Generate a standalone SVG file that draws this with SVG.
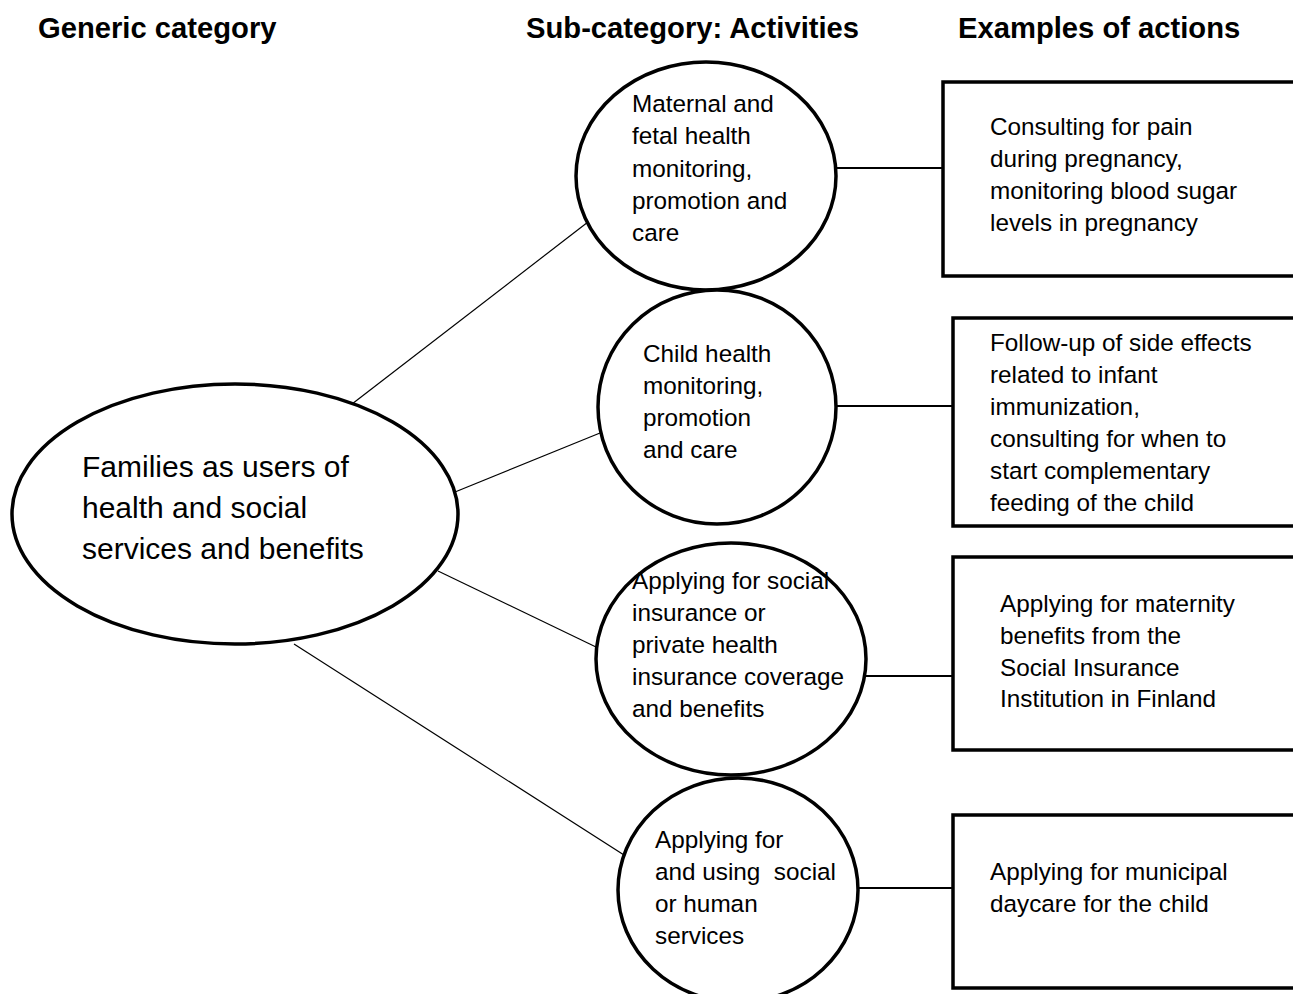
<svg xmlns="http://www.w3.org/2000/svg" width="1293" height="994" viewBox="0 0 1293 994">
<style>
.hdr{font-family:"Liberation Sans",Arial,sans-serif;font-weight:bold;font-size:29.2px;fill:#000}
.t{font-family:"Liberation Sans",Arial,sans-serif;font-size:24.3px;fill:#000}
.big{font-family:"Liberation Sans",Arial,sans-serif;font-size:30px;fill:#000}
.shape{fill:#fff;stroke:#000;stroke-width:3.5}
.thin{stroke:#000;stroke-width:1.2;fill:none}
.mid{stroke:#000;stroke-width:2;fill:none}
</style>
<rect width="1293" height="994" fill="#fff"/>
<g id="headers">
<text class="hdr" x="38" y="38">Generic category</text>
<text class="hdr" x="526" y="38">Sub-category: Activities</text>
<text class="hdr" x="958" y="38">Examples of actions</text>
</g>
<g id="connectors">
<line class="thin" x1="352" y1="404" x2="588" y2="222"/>
<line class="thin" x1="455" y1="492" x2="600" y2="433"/>
<line class="thin" x1="438" y1="571" x2="596" y2="647"/>
<line class="thin" x1="294" y1="644" x2="624" y2="855"/>
<line class="mid" x1="836" y1="168" x2="943" y2="168"/>
<line class="mid" x1="836" y1="406" x2="953" y2="406"/>
<line class="mid" x1="866" y1="676" x2="953" y2="676"/>
<line class="mid" x1="858" y1="888" x2="953" y2="888"/>
</g>
<g id="main">
<ellipse class="shape" cx="235" cy="514" rx="223" ry="130"/>
<text class="big" x="82" y="477">Families as users of</text>
<text class="big" x="82" y="518">health and social</text>
<text class="big" x="82" y="559">services and benefits</text>
</g>
<g id="sub1">
<ellipse class="shape" cx="706" cy="176" rx="130" ry="114"/>
<text class="t" x="632" y="112">Maternal and</text>
<text class="t" x="632" y="144">fetal health</text>
<text class="t" x="632" y="177">monitoring,</text>
<text class="t" x="632" y="209">promotion and</text>
<text class="t" x="632" y="241">care</text>
</g>
<g id="sub2">
<ellipse class="shape" cx="717" cy="407" rx="119" ry="117"/>
<text class="t" x="643" y="362">Child health</text>
<text class="t" x="643" y="394">monitoring,</text>
<text class="t" x="643" y="426">promotion</text>
<text class="t" x="643" y="458">and care</text>
</g>
<g id="sub3">
<ellipse class="shape" cx="731" cy="659" rx="135" ry="116"/>
<text class="t" x="632" y="589">Applying for social</text>
<text class="t" x="632" y="621">insurance or</text>
<text class="t" x="632" y="653">private health</text>
<text class="t" x="632" y="685">insurance coverage</text>
<text class="t" x="632" y="717">and benefits</text>
</g>
<g id="sub4">
<ellipse class="shape" cx="738" cy="890" rx="120" ry="112"/>
<text class="t" x="655" y="848">Applying for</text>
<text class="t" x="655" y="880" xml:space="preserve">and using  social</text>
<text class="t" x="655" y="912">or human</text>
<text class="t" x="655" y="944">services</text>
</g>
<g id="ex1">
<rect class="shape" x="943" y="82" width="360" height="194"/>
<text class="t" x="990" y="135">Consulting for pain</text>
<text class="t" x="990" y="167">during pregnancy,</text>
<text class="t" x="990" y="199">monitoring blood sugar</text>
<text class="t" x="990" y="231">levels in pregnancy</text>
</g>
<g id="ex2">
<rect class="shape" x="953" y="318" width="360" height="208"/>
<text class="t" x="990" y="351">Follow-up of side effects</text>
<text class="t" x="990" y="383">related to infant</text>
<text class="t" x="990" y="415">immunization,</text>
<text class="t" x="990" y="447">consulting for when to</text>
<text class="t" x="990" y="479">start complementary</text>
<text class="t" x="990" y="511">feeding of the child</text>
</g>
<g id="ex3">
<rect class="shape" x="953" y="557" width="360" height="193"/>
<text class="t" x="1000" y="612">Applying for maternity</text>
<text class="t" x="1000" y="644">benefits from the</text>
<text class="t" x="1000" y="676">Social Insurance</text>
<text class="t" x="1000" y="707">Institution in Finland</text>
</g>
<g id="ex4">
<rect class="shape" x="953" y="815" width="360" height="173"/>
<text class="t" x="990" y="880">Applying for municipal</text>
<text class="t" x="990" y="912">daycare for the child</text>
</g>
</svg>
